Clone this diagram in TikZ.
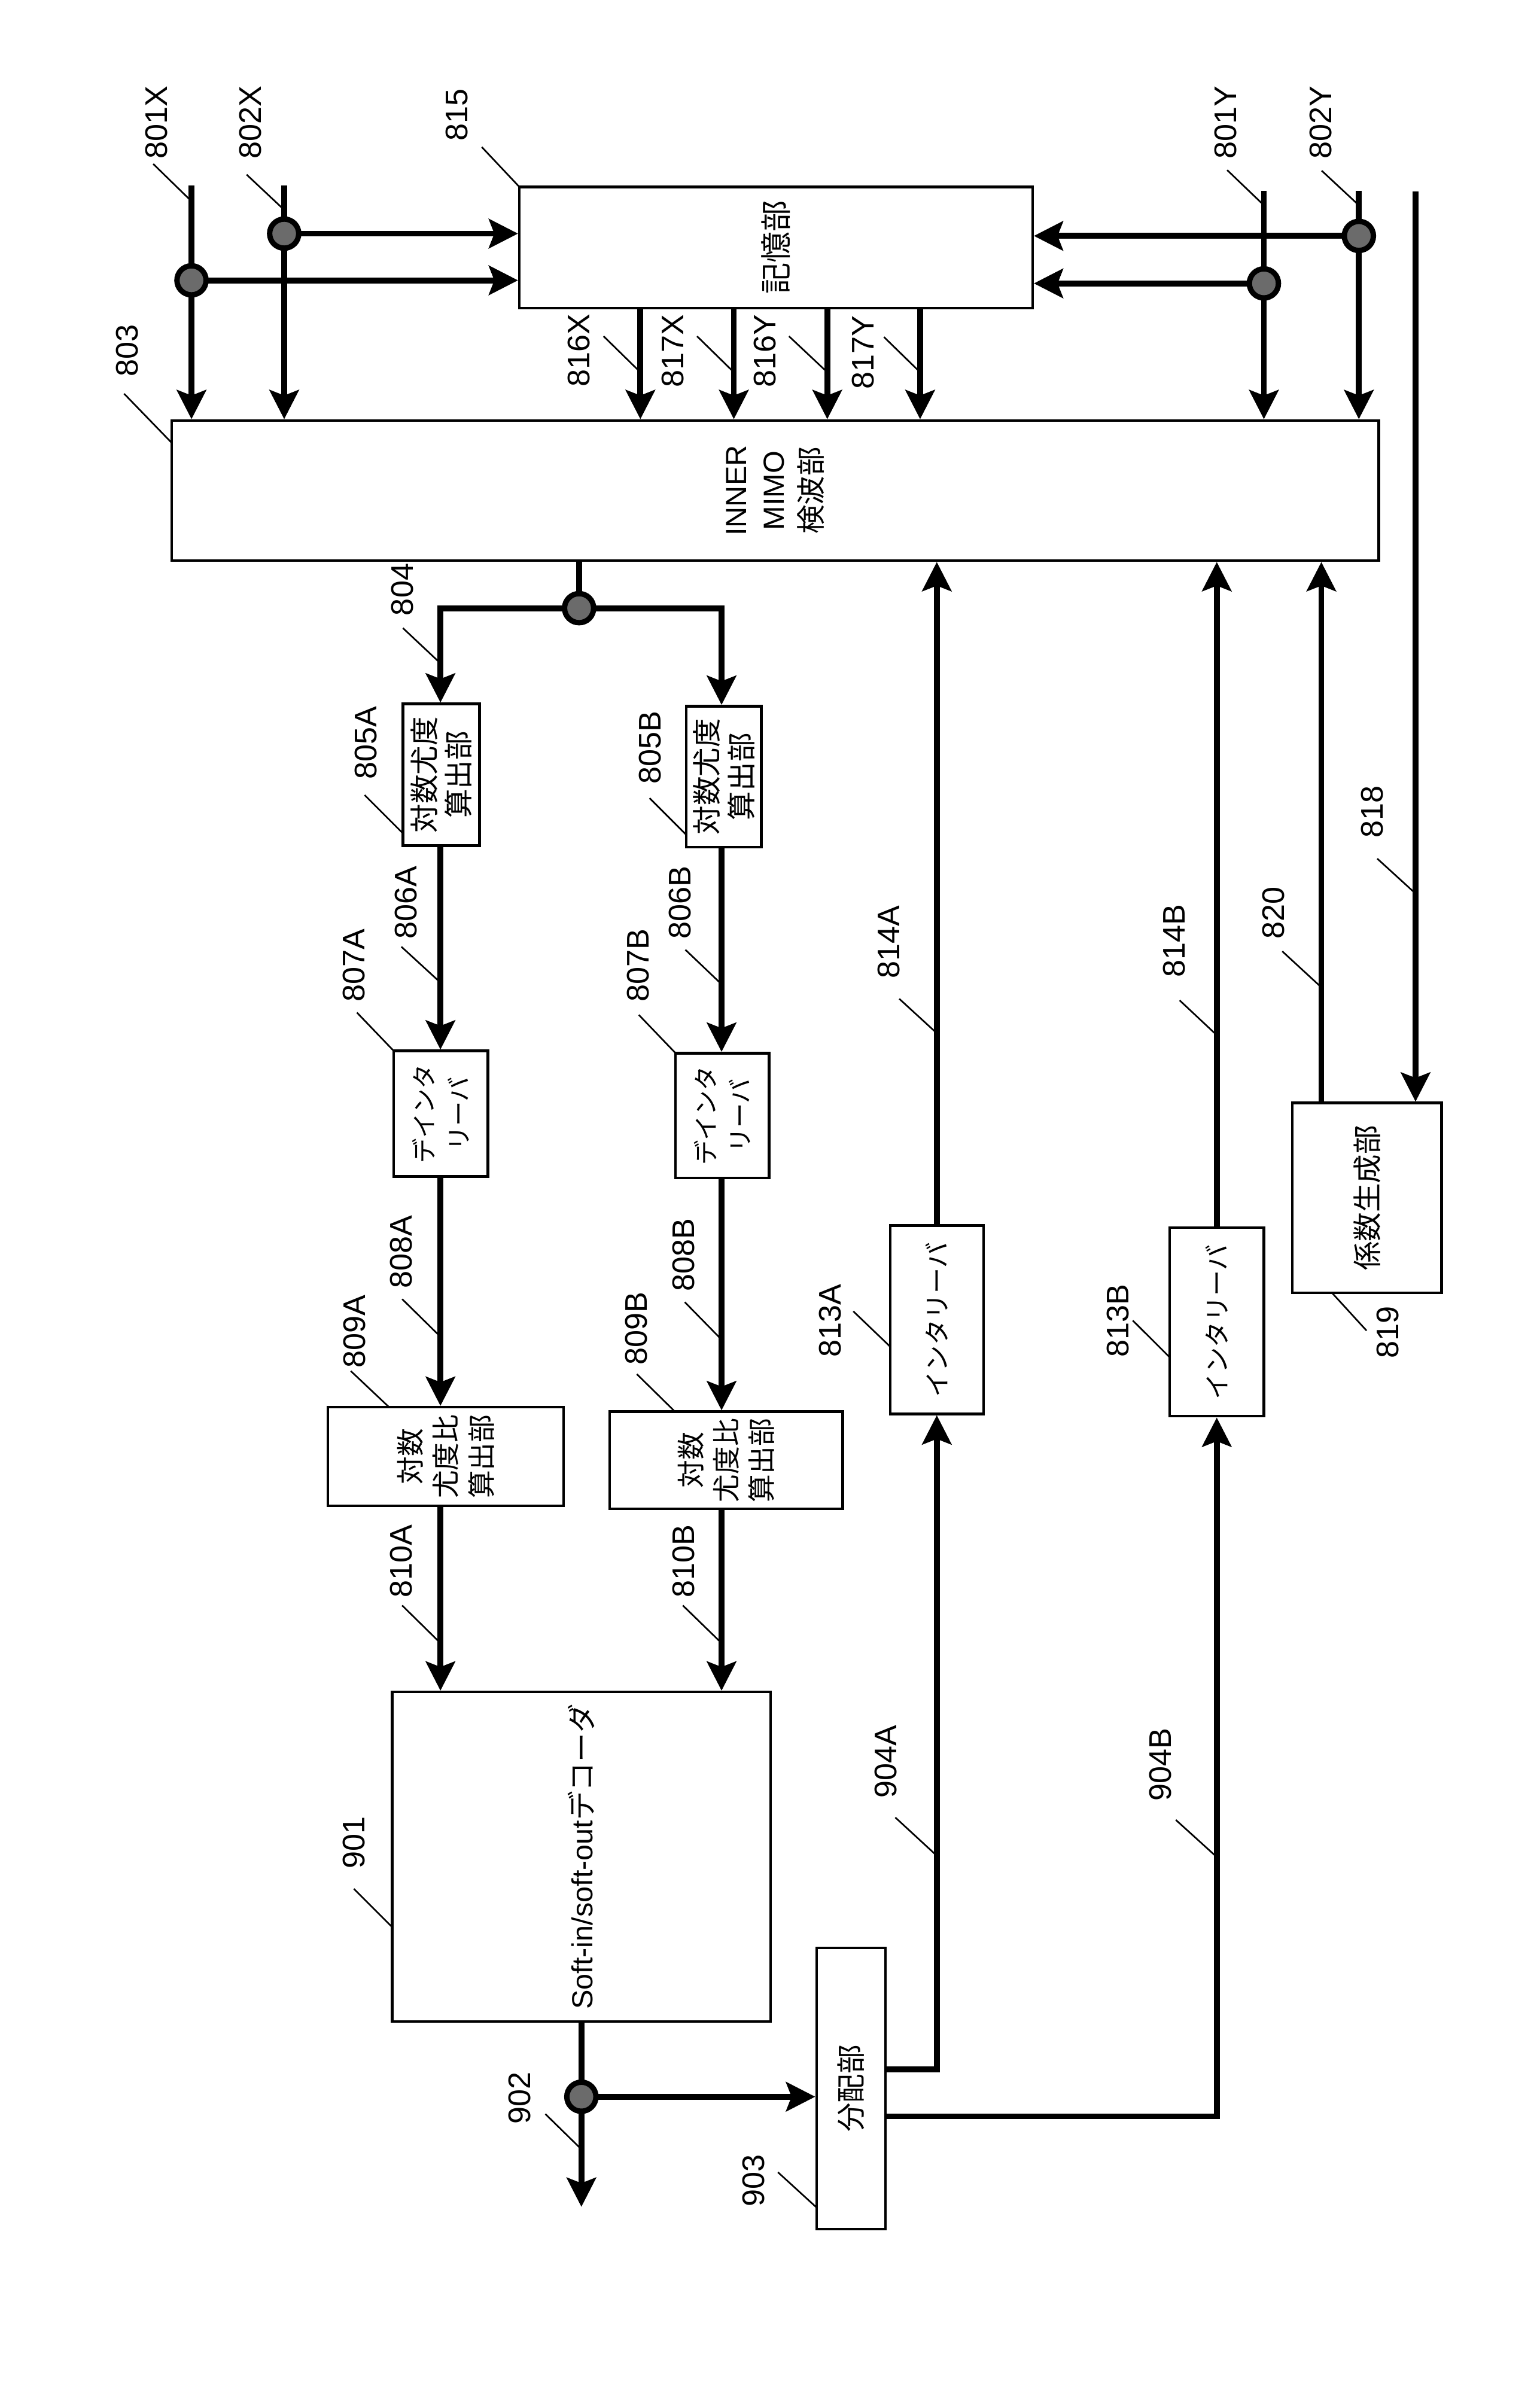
\documentclass[tikz,border=0pt]{standalone}
\usepackage{fontspec}
\setmainfont{Liberation Sans}
\newfontfamily\jp{Noto Sans CJK JP}
\usetikzlibrary{arrows.meta,fit}
\newcommand{\ldr}[3]{\coordinate (#1s) at (#2); \coordinate (#1e) at (#3); \draw[leader] (#1s) -- (#1e);}
\tikzset{
  box/.style={draw, line width=2.4pt, inner sep=0pt},
  btext/.style={rotate=90, align=center, inner sep=0pt},
  wire/.style={line width=5.5pt},
  arr/.style={line width=5.5pt, -{Stealth[length=27pt,width=27pt,inset=5pt]}},
  leader/.style={line width=1.5pt},
  lbl/.style={font=\fontsize{29pt}{29pt}\selectfont, inner sep=0pt, rotate=90, anchor=west},
  dot/.style={circle, draw=black, fill=black!58, line width=5pt, minimum size=0.95cm, inner sep=0pt},
}
\begin{document}
\begin{tikzpicture}[x=0.05cm, y=-0.05cm]
\useasboundingbox (0,0) rectangle (1005,1568);

% ---------- boxes ----------
\node[box, fit={(339,122) (674,201)}] (b815) {};
\node[box, fit={(112,274.5) (900,366)}] (b803) {};
\node[box, fit={(263,459.5) (313,552)}] (b805A) {};
\node[box, fit={(448,461) (497,553)}] (b805B) {};
\node[box, fit={(257,686) (318.5,768)}] (b807A) {};
\node[box, fit={(441,687.5) (502,769)}] (b807B) {};
\node[box, fit={(214,918.6) (368,983)}] (b809A) {};
\node[box, fit={(398,921.5) (550,985)}] (b809B) {};
\node[box, fit={(256,1104.5) (503,1319.5)}] (b901) {};
\node[box, fit={(581,800) (642,923)}] (b813A) {};
\node[box, fit={(763.5,801.4) (825,924.5)}] (b813B) {};
\node[box, fit={(843.5,720) (941,844)}] (b819) {};
\node[box, fit={(533,1271.6) (578,1455)}] (b903) {};

% ---------- box texts ----------
\node[btext, font=\jp\fontsize{29pt}{35pt}\selectfont] (t815b) at (b815.center) {記憶部};
\node[btext, font=\fontsize{27pt}{35pt}\selectfont] (t803b) at (b803.center) {INNER\\MIMO\\{\jp 検波部}};
\node[btext, font=\jp\fontsize{27pt}{32pt}\selectfont] (t805Ab) at (b805A.center) {対数尤度\\算出部};
\node[btext, font=\jp\fontsize{27pt}{32pt}\selectfont] (t805Bb) at (b805B.center) {対数尤度\\算出部};
\node[btext, font=\jp\fontsize{23pt}{32pt}\selectfont] (t807Ab) at (b807A.center) {デインタ\\リーバ};
\node[btext, font=\jp\fontsize{23pt}{32pt}\selectfont] (t807Bb) at (b807B.center) {デインタ\\リーバ};
\node[btext, font=\jp\fontsize{26pt}{33pt}\selectfont] (t809Ab) at (b809A.center) {対数\\尤度比\\算出部};
\node[btext, font=\jp\fontsize{26pt}{33pt}\selectfont] (t809Bb) at (b809B.center) {対数\\尤度比\\算出部};
\node[btext, font=\fontsize{27pt}{32pt}\selectfont] (t901b) at (b901.center) {Soft-in/soft-out{\jp デコーダ}};
\node[btext, font=\jp\fontsize{24pt}{30pt}\selectfont] (t813Ab) at (b813A.center) {インタリーバ};
\node[btext, font=\jp\fontsize{24pt}{30pt}\selectfont] (t813Bb) at (b813B.center) {インタリーバ};
\node[btext, font=\jp\fontsize{27pt}{32pt}\selectfont] (t819b) at (b819.center) {係数生成部};
\node[btext, font=\jp\fontsize{27pt}{32pt}\selectfont] (t903b) at (b903.center) {分配部};

% ---------- coordinates ----------
\coordinate (s801X) at (125,121);
\coordinate (s802X) at (185.5,121);
\coordinate (s801Y) at (825,124.5);
\coordinate (s802Y) at (887,124.5);
\coordinate (s818) at (924,125);
\coordinate (j801X) at (125,183);
\coordinate (j802X) at (185.5,152.5);
\coordinate (j801Y) at (825,185);
\coordinate (j802Y) at (887,154);
\coordinate (j804) at (378,397);
\coordinate (j902) at (379.5,1368.7);
\coordinate (o902) at (379.5,1440.6);
\coordinate (x816X) at (418,0);
\coordinate (x817X) at (479,0);
\coordinate (x816Y) at (540,0);
\coordinate (x817Y) at (600.6,0);
\coordinate (xA) at (287.5,0);
\coordinate (xB) at (471,0);
\coordinate (x820) at (862.5,0);
\coordinate (x818) at (924,0);
\coordinate (y904A) at (0,1350.8);
\coordinate (y904B) at (0,1381.5);

% ---------- connectors ----------
\draw[arr] (s801X) -- (b803.north -| s801X);
\draw[arr] (s802X) -- (b803.north -| s802X);
\draw[arr] (s801Y) -- (b803.north -| s801Y);
\draw[arr] (s802Y) -- (b803.north -| s802Y);
\draw[arr] (j801X) -- (j801X -| b815.west);
\draw[arr] (j802X) -- (j802X -| b815.west);
\draw[arr] (j801Y) -- (j801Y -| b815.east);
\draw[arr] (j802Y) -- (j802Y -| b815.east);
\draw[arr] (b815.south -| x816X) -- (b803.north -| x816X);
\draw[arr] (b815.south -| x817X) -- (b803.north -| x817X);
\draw[arr] (b815.south -| x816Y) -- (b803.north -| x816Y);
\draw[arr] (b815.south -| x817Y) -- (b803.north -| x817Y);
\draw[arr] (s818) -- (b819.north -| x818);

\draw[wire] (b803.south -| j804) -- (j804);
\draw[arr] (j804) -| (xA |- b805A.north);
\draw[arr] (j804) -| (xB |- b805B.north);
\draw[arr] (b805A.south -| xA) -- (b807A.north -| xA);
\draw[arr] (b805B.south -| xB) -- (b807B.north -| xB);
\draw[arr] (b807A.south -| xA) -- (b809A.north -| xA);
\draw[arr] (b807B.south -| xB) -- (b809B.north -| xB);
\draw[arr] (b809A.south -| xA) -- (b901.north -| xA);
\draw[arr] (b809B.south -| xB) -- (b901.north -| xB);

\draw[arr] (b901.south -| j902) -- (o902);
\draw[arr] (j902) -- (j902 -| b903.west);
\draw[arr] (b903.east |- y904A) -| (b813A.south);
\draw[arr] (b903.east |- y904B) -| (b813B.south);
\draw[arr] (b813A.north) -- (b803.south -| b813A.north);
\draw[arr] (b813B.north) -- (b803.south -| b813B.north);
\draw[arr] (b819.north -| x820) -- (b803.south -| x820);

% ---------- junction dots ----------
\node[dot] (d801X) at (j801X) {};
\node[dot] (d802X) at (j802X) {};
\node[dot] (d801Y) at (j801Y) {};
\node[dot] (d802Y) at (j802Y) {};
\node[dot] (d804) at (j804) {};
\node[dot] (d902) at (j902) {};

% ---------- reference labels ----------
\node[lbl] (t801X) at (102,104) {801X};
\node[lbl] (t802X) at (163.5,104) {802X};
\node[lbl] (t815) at (298,92) {815};
\node[lbl] (t803) at (83,246) {803};
\node[lbl] (t816X) at (378,252.7) {816X};
\node[lbl] (t817X) at (439,253) {817X};
\node[lbl] (t816Y) at (499.5,253) {816Y};
\node[lbl] (t817Y) at (563.5,254) {817Y};
\node[lbl] (t801Y) at (800,104) {801Y};
\node[lbl] (t802Y) at (862,104) {802Y};
\node[lbl] (t804) at (262.5,402) {804};
\node[lbl] (t805A) at (239,509) {805A};
\node[lbl] (t805B) at (424.5,512) {805B};
\node[lbl] (t806A) at (265,613) {806A};
\node[lbl] (t806B) at (444,613) {806B};
\node[lbl] (t807A) at (231,654) {807A};
\node[lbl] (t807B) at (416.5,654) {807B};
\node[lbl] (t808A) at (262,841) {808A};
\node[lbl] (t808B) at (446,843) {808B};
\node[lbl] (t809A) at (231.5,893) {809A};
\node[lbl] (t809B) at (415.5,891) {809B};
\node[lbl] (t810A) at (262,1043) {810A};
\node[lbl] (t810B) at (446,1043) {810B};
\node[lbl] (t813A) at (541.8,886) {813A};
\node[lbl] (t813B) at (729.8,886) {813B};
\node[lbl] (t814A) at (580,639) {814A};
\node[lbl] (t814B) at (766.5,638) {814B};
\node[lbl] (t818) at (895.5,547) {818};
\node[lbl] (t819) at (906,887) {819};
\node[lbl] (t820) at (831.3,613) {820};
\node[lbl] (t901) at (231,1220) {901};
\node[lbl] (t902) at (339,1386.7) {902};
\node[lbl] (t903) at (492,1440.6) {903};
\node[lbl] (t904A) at (578,1174) {904A};
\node[lbl] (t904B) at (757.5,1176) {904B};

% ---------- leader lines ----------
\ldr{l801X}{100,107}{124.6,131}
\ldr{l802X}{161,114}{185.5,137}
\ldr{l815}{314.5,96}{339,122}
\ldr{l803}{81,257}{112,289}
\ldr{l816X}{394,219.5}{418,243}
\ldr{l817X}{455,219.5}{479,243}
\ldr{l816Y}{515,219.5}{540,243}
\ldr{l817Y}{577,220}{600.6,243}
\ldr{l801Y}{801,111}{825,134}
\ldr{l802Y}{862.7,111.4}{887,134}
\ldr{l804}{263,410}{287.5,433}
\ldr{l805A}{238,519}{263,544}
\ldr{l805B}{424,521}{448,545}
\ldr{l806A}{262,618}{287.5,641.4}
\ldr{l806B}{447.4,620}{471,642.5}
\ldr{l807A}{233,661}{257,686}
\ldr{l807B}{417,662.5}{441,687.5}
\ldr{l808A}{262.5,848}{287.5,872.6}
\ldr{l808B}{447,850}{471,874.5}
\ldr{l809A}{229,895}{254,918.6}
\ldr{l809B}{415.7,897}{440.6,921.5}
\ldr{l810A}{262.5,1048}{287.5,1072.6}
\ldr{l810B}{445.7,1048}{471,1072.6}
\ldr{l901}{231,1233}{256,1258}
\ldr{l902}{356,1380}{379.5,1403}
\ldr{l903}{507.8,1418}{533,1441}
\ldr{l904A}{584.4,1186.4}{610,1210}
\ldr{l904B}{767.5,1188}{794,1212}
\ldr{l813A}{557,856}{581,879}
\ldr{l813B}{739.4,862}{763.5,886}
\ldr{l814A}{587,652}{611,674}
\ldr{l814B}{770,653}{794,675.5}
\ldr{l820}{837,621}{862.5,644.5}
\ldr{l818}{899,560.5}{924,583.3}
\ldr{l819}{869.5,844}{892,868.6}
\end{tikzpicture}
\end{document}
